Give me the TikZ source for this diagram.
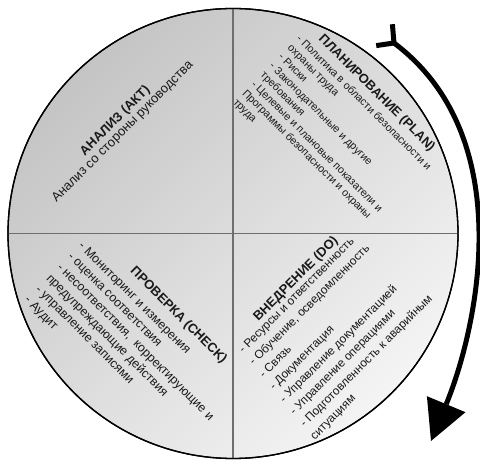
\documentclass[tikz,border=0pt]{standalone}
\usepackage{fontspec}
\setmainfont{Liberation Sans}
\usetikzlibrary{arrows.meta}
\definecolor{disktop}{RGB}{196,196,196}
\definecolor{diskbot}{RGB}{244,244,244}
\definecolor{divcol}{RGB}{110,110,110}
\definecolor{textcol}{RGB}{25,25,25}
\begin{document}
\begin{tikzpicture}[x=1pt,y=-1pt,
  txt/.style={inner sep=0pt, outer sep=0pt, text height=0.72em, text depth=0.22em, text=textcol},
  ttl/.style={txt, font=\fontsize{13}{13}\selectfont\bfseries},
  plantxt/.style={txt, font=\fontsize{10.7}{12}\selectfont, anchor=west, rotate=-45},
  checktxt/.style={txt, font=\fontsize{12.4}{14}\selectfont, anchor=west, rotate=-45},
  dotxt/.style={txt, font=\fontsize{11.8}{14}\selectfont, anchor=west, rotate=45},
  acttxt/.style={txt, font=\fontsize{13}{14}\selectfont, anchor=center, rotate=45},
  divider/.style={draw=divcol, line width=1.8pt},
  cyclearrow/.style={line width=5pt, line cap=butt},
]
\useasboundingbox (0,0) rectangle (480,462);

% disk
\node[circle, draw=black, line width=1.3pt, minimum size=450pt, inner sep=0pt,
      top color=disktop, bottom color=diskbot, shading angle=45] (disk) at (233,233.5) {};
\draw[divider] (disk.north) -- (disk.south);
\draw[divider] (disk.west) -- (disk.east);
\draw[black, line width=1.3pt] (disk) circle (225pt);

% PLAN
\node[ttl, anchor=west, rotate=-45] (plantitle) at (320,38) {ПЛАНИРОВАНИЕ (PLAN)};
\foreach \t [count=\i from 0] in {
  {- Политика в области безопасности и},
  {охраны труда},
  {- Риски},
  {- Законодательные и другие},
  {требования},
  {- Целевые и плановые показатели и},
  {Программы безопасности и охраны},
  {труда}}
  \node[plantxt] (plan\i) at ({298-9.05*\i},{38+9.05*\i}) {\t};

% ACT
\node[ttl, anchor=center, rotate=45] (acttitle) at (115.8,121.7) {АНАЛИЗ (АКТ)};
\node[acttxt] (act0) at (123.3,132.5) {Анализ со стороны руководства};

% CHECK
\node[ttl, anchor=west, rotate=-45] (checktitle) at (131.7,270) {ПРОВЕРКА (CHECK)};
\foreach \t [count=\i from 0] in {
  {- Мониторинг и измерения},
  {- оценка соответствия},
  {- несоответствия,\ \ корректирующие и},
  {предупреждающие действия},
  {- управление записями},
  {- Аудит}}
  \node[checktxt] (check\i) at ({80-10.82*\i},{245+10.82*\i}) {\t};

% DO
\node[ttl, anchor=west, rotate=45] (dotitle) at (256.7,320) {ВНЕДРЕНИЕ (DO)};
\foreach \t [count=\i from 0] in {
  {- Ресурсы и ответственность},
  {- Обучение, осведомленность},
  {- Связь},
  {- Документация},
  {- Управление документацией},
  {- Управление операциями},
  {- Подготовленность к аварийным},
  {ситуациям}}
  \node[dotxt] (do\i) at ({241.7+10.2*\i},{351.7+12.4*\i}) {\t};

% cycle arrow
\coordinate (tail) at (394,43);
\coordinate (prongA) at (392.4,24.2);
\coordinate (prongB) at (376.2,45.6);
\coordinate (headbase) at (446.2,404.2);
\coordinate (headL) at (426.9,396.2);
\coordinate (headR) at (465.5,412.2);
\coordinate (tip) at (431,441);
\draw[cyclearrow] (tail) .. controls (521,138.3) and (476.3,331.3) .. (headbase);
\fill[black] (tip) -- (headL) -- (headR) -- cycle;
\draw[cyclearrow, line join=miter] (prongA) -- (tail) -- (prongB);
\end{tikzpicture}
\end{document}
